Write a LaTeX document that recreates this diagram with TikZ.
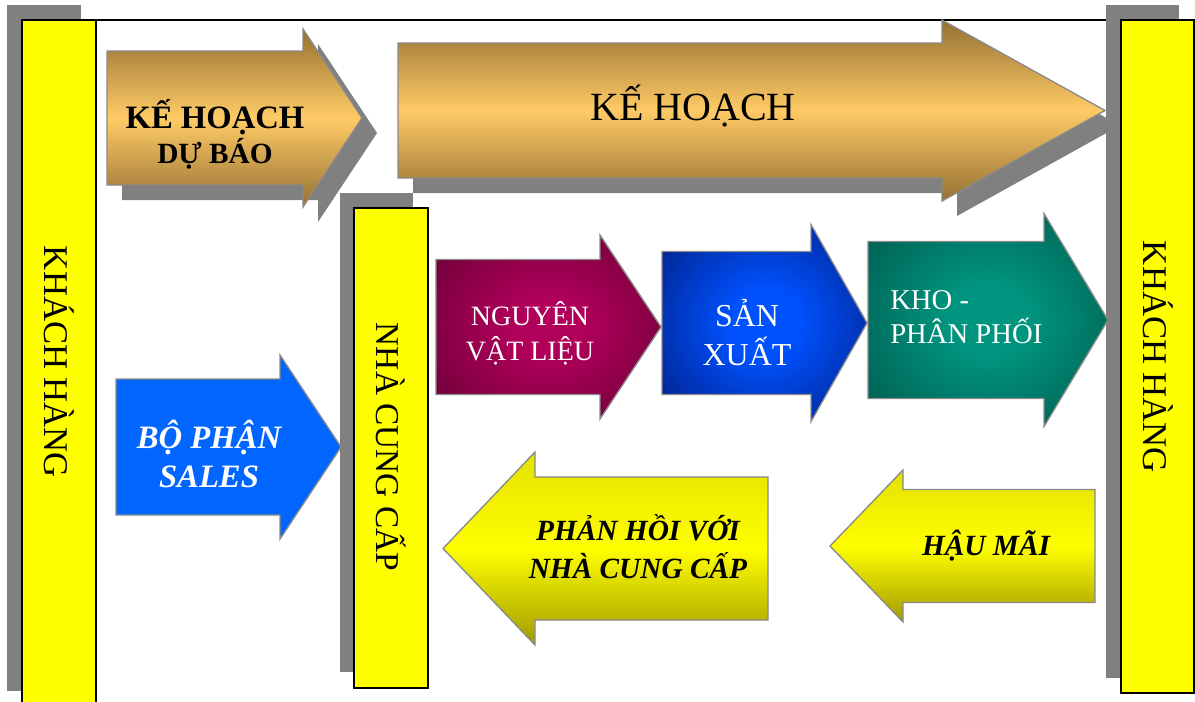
\documentclass[tikz,border=0pt]{standalone}
\usepackage{fontspec}
\setmainfont{Liberation Serif}
\definecolor{shadowgray}{HTML}{808080}
\definecolor{edgegray}{HTML}{8A8A8A}
\definecolor{baryellow}{HTML}{FFFF00}
\definecolor{golddark}{HTML}{947033}
\definecolor{goldlight}{HTML}{FFCB66}
\definecolor{crimsonin}{HTML}{B0005A}
\definecolor{crimsonout}{HTML}{520029}
\definecolor{bluein}{HTML}{0052FF}
\definecolor{blueout}{HTML}{000E5E}
\definecolor{tealin}{HTML}{00957F}
\definecolor{tealout}{HTML}{00473D}
\definecolor{salesblue}{HTML}{0066FF}
\definecolor{olivedark}{HTML}{A09A00}
\definecolor{olivetop}{HTML}{E4E000}
% soft radial glows for the flow arrows
\pgfdeclareradialshading{crimsonglow}{\pgfpoint{0bp}{0bp}}{color(0bp)=(crimsonin); color(8bp)=(crimsonin); color(44bp)=(crimsonout); color(50bp)=(crimsonout)}
\pgfdeclareradialshading{blueglow}{\pgfpoint{0bp}{0bp}}{color(0bp)=(bluein); color(8bp)=(bluein); color(44bp)=(blueout); color(50bp)=(blueout)}
\pgfdeclareradialshading{tealglow}{\pgfpoint{0bp}{0bp}}{color(0bp)=(tealin); color(8bp)=(tealin); color(44bp)=(tealout); color(50bp)=(tealout)}
% block arrow: base x, neck x, tip x, centre y, half body height, half head height
\newcommand\arrowshape[6]{(#1,#4-#5) -- (#2,#4-#5) -- (#2,#4-#6) -- (#3,#4) -- (#2,#4+#6) -- (#2,#4+#5) -- (#1,#4+#5) -- cycle}
\begin{document}
\begin{tikzpicture}[x=0.75pt,y=-0.75pt,
  shadowbox/.style={fill=shadowgray},
  barbox/.style={fill=baryellow,draw=black,line width=1.5pt},
  edge/.style={draw=edgegray,line width=1pt},
  gold/.style={edge,top color=golddark,bottom color=golddark,middle color=goldlight},
  lemon/.style={edge,top color=olivetop,bottom color=olivedark,middle color=baryellow},
  dropshadow/.style={fill=shadowgray,shift={(15,15)}},
  whitetext/.style={text=white,inner sep=0pt},
  darktext/.style={text=black,inner sep=0pt},
  vlabel/.style={rotate=-90,inner sep=0pt,font=\fontsize{26}{30}\selectfont}]
\useasboundingbox (0,0) rectangle (1195,701);

% outer frame top edge
\coordinate (frameL) at (96,20);
\coordinate (frameR) at (1121,20);
\draw[line width=1.5pt] (frameL) -- (frameR);

% side bars with their shadows
\fill[shadowbox] (7,5) rectangle (81,691);
\draw[barbox] (22,20) rectangle (96,708);
\fill[shadowbox] (1106,5) rectangle (1179,678);
\draw[barbox] (1121,20) rectangle (1194,693);
\fill[shadowbox] (340,193) rectangle (413,672);
\draw[barbox] (354,208) rectangle (428,688);

\node[vlabel] (custL) at (59,362) {KHÁCH HÀNG};
\node[vlabel] (custR) at (1158,357) {KHÁCH HÀNG};
\node[vlabel,font=\fontsize{25}{30}\selectfont] (supplier) at (391,447) {NHÀ CUNG CẤP};

% planning arrows
\fill[dropshadow] \arrowshape{107}{303}{362}{118}{67}{89};
\shadedraw[gold] \arrowshape{107}{303}{362}{118}{67}{89};
\fill[dropshadow] \arrowshape{398}{942}{1105}{110.5}{67.5}{90.5};
\shadedraw[gold] \arrowshape{398}{942}{1105}{110.5}{67.5}{90.5};

\node[darktext,anchor=base,align=center,font=\fontsize{24.5}{26.25}\selectfont\bfseries] (forecast) at (215,163)
  {KẾ HOẠCH\\{\fontsize{22}{26.25}\selectfont DỰ BÁO}};
\node[darktext,anchor=base,font=\fontsize{30}{34}\selectfont] (plan) at (693,120) {KẾ HOẠCH};

% material flow
\shadedraw[edge,shading=crimsonglow] \arrowshape{436}{600}{661}{327}{67.5}{92};
\shadedraw[edge,shading=blueglow] \arrowshape{662}{811}{867}{323}{71.5}{98.5};
\shadedraw[edge,shading=tealglow] \arrowshape{868}{1044}{1108}{320}{78.5}{106.5};

\node[whitetext,anchor=base,align=center,font=\fontsize{21}{26.25}\selectfont] (material) at (530,360) {NGUYÊN\\VẬT LIỆU};
\node[whitetext,anchor=base,align=center,font=\fontsize{24}{29.25}\selectfont] (production) at (747,365) {SẢN\\XUẤT};
\node[whitetext,anchor=base west,align=left,font=\fontsize{21.5}{25.5}\selectfont] (warehouse) at (890,343) {KHO -\\PHÂN PHỐI};

% sales arrow
\draw[edge,fill=salesblue] \arrowshape{116}{280}{341}{447}{68}{92};
\node[whitetext,anchor=base,align=center,font=\fontsize{24.5}{29.25}\selectfont\bfseries\itshape] (sales) at (209,487) {BỘ PHẬN\\SALES};

% feedback arrows
\shadedraw[lemon] \arrowshape{768}{535}{443}{548.5}{71.5}{96.5};
\shadedraw[lemon] \arrowshape{1095}{903}{830}{546}{56.5}{76};

\node[darktext,anchor=base,align=center,font=\fontsize{22}{28.5}\selectfont\bfseries\itshape] (feedback) at (638,578) {PHẢN HỒI VỚI\\NHÀ CUNG CẤP};
\node[darktext,anchor=base,font=\fontsize{22}{28.5}\selectfont\bfseries\itshape] (aftersales) at (986,555) {HẬU MÃI};
\end{tikzpicture}
\end{document}
